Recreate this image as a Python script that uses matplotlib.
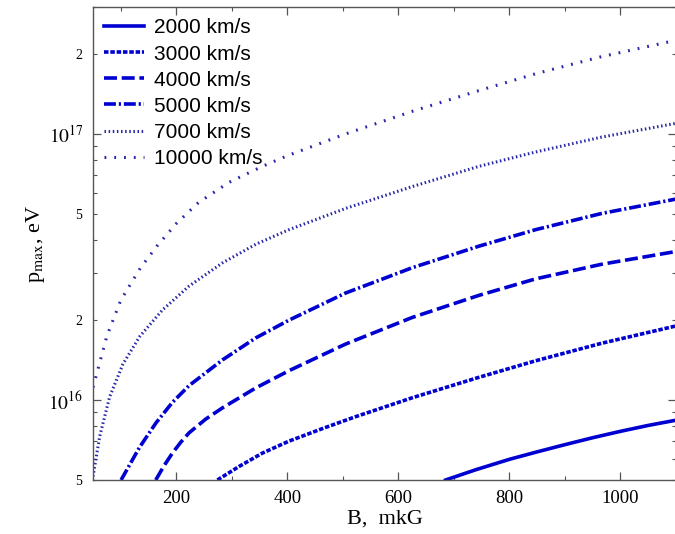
import math
import matplotlib
matplotlib.use("Agg")
import matplotlib.pyplot as plt
from matplotlib.ticker import LogLocator, FuncFormatter, MultipleLocator

plt.rcParams['font.family'] = ['Liberation Serif', 'DejaVu Serif']
plt.rcParams['mathtext.fontset'] = 'stix'

# Data: B (mkG) -> p_max (eV)
b_2000 = [685, 740, 800, 850, 900, 950, 1000, 1050, 1100]
p_2000 = [5.0e15, 5.47e15, 5.98e15, 6.38e15, 6.79e15, 7.21e15, 7.62e15, 8.02e15, 8.39e15]

b_3000 = [274, 313, 355, 403, 463, 523, 625, 745, 847, 966, 1100]
p_3000 = [5.0e15, 5.62e15, 6.31e15, 7.0e15, 7.80e15, 8.65e15, 1.019e16, 1.216e16, 1.403e16, 1.633e16, 1.897e16]

b_4000 = [163, 178, 193, 208, 223, 253, 283, 343, 403, 505, 625, 745, 847, 966, 1100]
p_4000 = [5.0e15, 5.66e15, 6.31e15, 6.93e15, 7.52e15, 8.47e15, 9.33e15, 1.109e16, 1.288e16, 1.622e16, 2.042e16, 2.472e16, 2.851e16, 3.236e16, 3.614e16]

b_5000 = [100.6, 133.5, 163.5, 193, 223, 283, 343, 403, 505, 625, 745, 847, 966, 1100]
p_5000 = [5.0e15, 6.62e15, 8.20e15, 9.79e15, 1.132e16, 1.413e16, 1.710e16, 1.995e16, 2.523e16, 3.141e16, 3.784e16, 4.365e16, 5.023e16, 5.689e16]

b_7000 = [50, 62, 80, 104, 134, 175, 223, 283, 343, 403, 505, 625, 745, 847, 966, 1100]
p_7000 = [5.15e15, 7.28e15, 1.028e16, 1.365e16, 1.730e16, 2.178e16, 2.679e16, 3.273e16, 3.846e16, 4.365e16, 5.248e16, 6.339e16, 7.551e16, 8.551e16, 9.727e16, 1.096e17]

b_10000 = [50, 75, 100, 135, 165, 200, 240, 295, 355, 400, 505, 625, 745, 850, 965, 1100]
p_10000 = [1.114e16, 1.738e16, 2.371e16, 3.126e16, 3.784e16, 4.603e16, 5.521e16, 6.577e16, 7.551e16, 8.279e16, 1.0e17, 1.216e17, 1.455e17, 1.690e17, 1.950e17, 2.249e17]

labels = ['2000 km/s', '3000 km/s', '4000 km/s', '5000 km/s', '7000 km/s', '10000 km/s']

fig = plt.figure(figsize=(6.75, 5.34), dpi=100)
ax = fig.add_axes([93/675, 54/534, 583/675, 473/534])

col = '#0000d0'
dcol = '#2828a8'
ax.plot(b_2000, p_2000, color=col, lw=2.6, linestyle='-', label=labels[0])
ax.plot(b_3000, p_3000, color=col, lw=2.6, linestyle=(0, (1.25, 0.5)), label=labels[1])
ax.plot(b_4000, p_4000, color=col, lw=2.6, linestyle=(0, (3.6, 1.3)), label=labels[2])
ax.plot(b_5000, p_5000, color=col, lw=2.6, linestyle=(0, (3.3, 0.8, 0.6, 0.8)), label=labels[3])
ax.plot(b_7000, p_7000, color=dcol, lw=2.2, linestyle=(0, (0.5, 0.85)), label=labels[4])
ax.plot(b_10000, p_10000, color=dcol, lw=2.2, linestyle=(0, (0.6, 2.6)), label=labels[5])

ax.set_yscale('log')
ax.set_xlim(50, 1100)
ax.set_ylim(5e15, 3e17)

ax.xaxis.set_major_locator(MultipleLocator(200))
ax.xaxis.set_minor_locator(MultipleLocator(100))
ax.yaxis.set_major_locator(LogLocator(base=10, numticks=10))
ax.yaxis.set_minor_locator(LogLocator(base=10, subs=range(2, 10), numticks=20))

def major_fmt(v, pos):
    e = int(round(math.log10(v)))
    return r'$10^{%d}$' % e

def minor_fmt(v, pos):
    e = math.floor(math.log10(v) + 1e-9)
    m = int(round(v / 10**e))
    return str(m) if m in (2, 5) else ''

ax.yaxis.set_major_formatter(FuncFormatter(major_fmt))
ax.yaxis.set_minor_formatter(FuncFormatter(minor_fmt))

ax.tick_params(which='both', direction='in', top=True, right=True, color='#555555')
ax.tick_params(which='major', length=6, width=0.9, labelsize=13.5)
ax.tick_params(which='minor', length=3, width=0.8, labelsize=10)
ax.tick_params(axis='y', which='major', labelsize=14, pad=7)
ax.tick_params(axis='y', which='minor', pad=8)
ax.tick_params(axis='x', which='major', pad=7)
for s in ax.spines.values():
    s.set_color('#555555')
    s.set_linewidth(1.0)

ax.set_xlabel('B,  mkG', fontsize=16, labelpad=2)
ax.set_ylabel(r'p$_{\mathrm{max}}$, eV', fontsize=16, labelpad=1)

leg = ax.legend(loc='upper left', frameon=False,
                prop={'family': 'Liberation Sans', 'size': 15},
                handlelength=1.9, handletextpad=0.5, labelspacing=0.34,
                borderaxespad=0.3, borderpad=0.25)

fig.savefig('out.png', dpi=100)
